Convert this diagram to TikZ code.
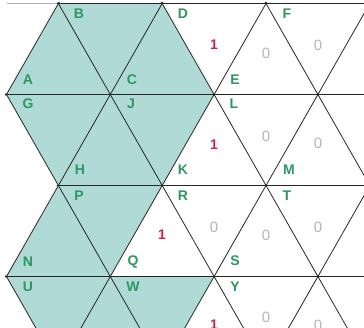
\documentclass[tikz,border=0pt]{standalone}
\usepackage{fontspec}
\setmainfont{Liberation Sans}
\definecolor{shadefill}{RGB}{176,218,214}
\definecolor{lblgreen}{RGB}{46,150,96}
\definecolor{onered}{RGB}{214,30,80}
\definecolor{zerogray}{RGB}{180,180,180}
\begin{document}
\begin{tikzpicture}[x=1pt,y=-1pt,
  gridline/.style={line width=0.8pt, draw=black!85},
  vlabel/.style={text=lblgreen, inner sep=0pt, font=\fontsize{14}{16}\selectfont\bfseries},
  onelabel/.style={text=onered, inner sep=0pt, font=\fontsize{14}{16}\selectfont\bfseries},
  zerolabel/.style={text=zerogray, inner sep=0pt, font=\fontsize{15}{17}\selectfont}]
\useasboundingbox (0,0) rectangle (364,328);
\begin{scope}
  \clip (0,0) rectangle (364,328);
  % shaded regions
  \fill[shadefill] (58.4,3.5) -- (162.2,3.5) -- (214.1,94.5) -- (162.2,185.5) -- (58.4,185.5) -- (6.5,94.5) -- cycle;
  \fill[shadefill] (58.4,185.5) -- (162.2,185.5) -- (110.3,276.5) -- (214.1,276.5) -- (162.2,367.5) -- (58.4,367.5) -- (6.5,276.5) -- cycle;
  % faint top edge
  \draw[line width=0.8pt, black!30] (6.5,3.5) -- (58.4,3.5);
  \begin{scope}
    \clip (57.8,2) -- (370,2) -- (370,340) -- (41,340) -- (5,276.5) -- (56.9,185.5) -- (5,94.5) -- cycle;
    \foreach \r in {3.5,94.5,185.5,276.5} {
      \draw[gridline] (0,\r) -- (370,\r);
    }
    \foreach \j in {-2,...,6} {
      \pgfmathsetmacro{\xx}{6.5+103.8*\j}
      \draw[gridline] ({\xx-51.9*5},{94.5+91*5}) -- ({\xx+51.9*2},{94.5-91*2});
      \draw[gridline] ({\xx-51.9*2},{94.5-91*2}) -- ({\xx+51.9*5},{94.5+91*5});
    }
  \end{scope}
  % vertex labels
  \node[vlabel] (B) at (79,14) {B};
  \node[vlabel] (D) at (183,14) {D};
  \node[vlabel] (F) at (287,14) {F};
  \node[vlabel] (A) at (28,80) {A};
  \node[vlabel] (C) at (132,80) {C};
  \node[vlabel] (E) at (235,80) {E};
  \node[vlabel] (G) at (28,104) {G};
  \node[vlabel] (J) at (131,104) {J};
  \node[vlabel] (L) at (234,104) {L};
  \node[vlabel] (H) at (80,170) {H};
  \node[vlabel] (K) at (183,170) {K};
  \node[vlabel] (M) at (289,170) {M};
  \node[vlabel] (P) at (79,196) {P};
  \node[vlabel] (R) at (183,196) {R};
  \node[vlabel] (T) at (287,196) {T};
  \node[vlabel] (N) at (28,262) {N};
  \node[vlabel] (Q) at (133,262) {Q};
  \node[vlabel] (S) at (235,261) {S};
  \node[vlabel] (U) at (28,287) {U};
  \node[vlabel] (W) at (133,287) {W};
  \node[vlabel] (Y) at (235,287) {Y};
  % numbers
  \node[onelabel] (o1) at (214,45) {1};
  \node[onelabel] (o2) at (214,145) {1};
  \node[onelabel] (o3) at (162,235) {1};
  \node[onelabel] (o4) at (214,325) {1};
  \node[zerolabel] (z1) at (266,53) {0};
  \node[zerolabel] (z2) at (318,45) {0};
  \node[zerolabel] (z3) at (266,136) {0};
  \node[zerolabel] (z4) at (318,143) {0};
  \node[zerolabel] (z5) at (214,227) {0};
  \node[zerolabel] (z6) at (266,235) {0};
  \node[zerolabel] (z7) at (318,227) {0};
  \node[zerolabel] (z8) at (266,317) {0};
  \node[zerolabel] (z9) at (318,325) {0};
\end{scope}
\end{tikzpicture}
\end{document}
